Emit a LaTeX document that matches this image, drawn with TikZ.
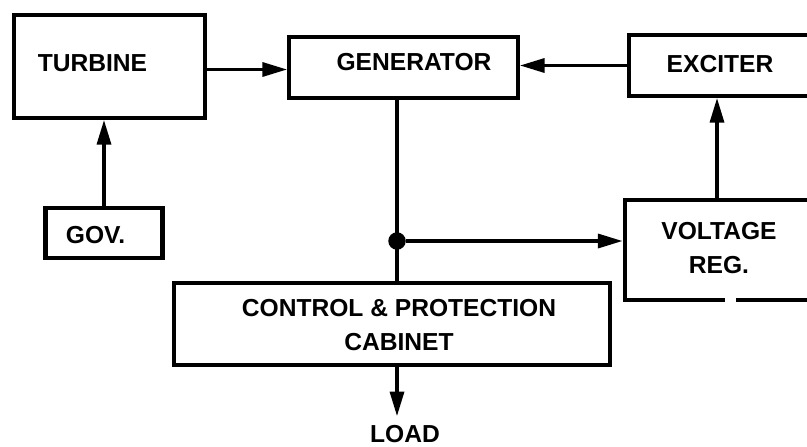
\documentclass[tikz,border=0pt]{standalone}
\usepackage{fontspec}
\setmainfont{Liberation Sans}
\usetikzlibrary{arrows.meta,calc}

\begin{document}
\begin{tikzpicture}[
    x=0.02cm, y=-0.02cm,
    blk/.style={rectangle, draw=black, line width=2.3pt, inner sep=0pt},
    lbl/.style={inner sep=0pt, align=center, font=\fontsize{14}{19}\selectfont\bfseries},
    arr/.style={-{Triangle[length=14pt, width=8pt]}, line width=1.8pt},
    lnk/.style={line width=1.8pt},
    dot/.style={circle, fill=black, inner sep=0pt, minimum size=0.35cm}
]
    \useasboundingbox (0,0) rectangle (807,446);
    \clip (0,0) rectangle (807,446);

    % blocks
    \node [blk, minimum width=3.82cm, minimum height=2.06cm] (turbine) at (109.5,66.5) {};
    \node [blk, minimum width=4.58cm, minimum height=1.22cm] (generator) at (403.5,67.5) {};
    \node [blk, minimum width=3.68cm, minimum height=1.22cm] (exciter) at (721,65.5) {};
    \node [blk, minimum width=2.34cm, minimum height=1.00cm] (gov) at (104,233) {};
    \node [blk, minimum width=3.70cm, minimum height=2.00cm] (voltreg) at (717,250) {};
    \node [blk, minimum width=8.72cm, minimum height=1.64cm] (cabinet) at (392,324) {};
    \fill [white] (725,295) rectangle (736,305);

    % labels
    \node [lbl] (turbinetxt) at (92.5,63) {TURBINE};
    \node [lbl] (generatortxt) at (414,62.5) {GENERATOR};
    \node [lbl] (excitertxt) at (720,64.5) {EXCITER};
    \node [lbl] (govtxt) at (95.5,235) {GOV.};
    \node [lbl] (voltregtxt) at (719,248) {VOLTAGE\\REG.};
    \node [lbl] (cabinettxt) at (399,325) {CONTROL \& PROTECTION\\CABINET};
    \node [lbl] (load) at (405,434) {LOAD};

    % connections
    \node [dot] (junction) at (397,241) {};
    \draw [arr] ($(turbine.east)+(0,3)$) -- ($(turbine.east -| generator.west)+(0,3)$);
    \draw [arr] (exciter.west) -- (exciter.west -| generator.east);
    \draw [arr] (gov.north) -- (gov.north |- turbine.south);
    \draw [arr] (voltreg.north) -- (voltreg.north |- exciter.south);
    \draw [lnk] (junction |- generator.south) -- (junction |- cabinet.north);
    \draw [arr] (junction) -- (junction -| voltreg.west);
    \draw [arr, shorten >=5pt] (junction |- cabinet.south) -- (junction |- load.north);
\end{tikzpicture}
\end{document}
